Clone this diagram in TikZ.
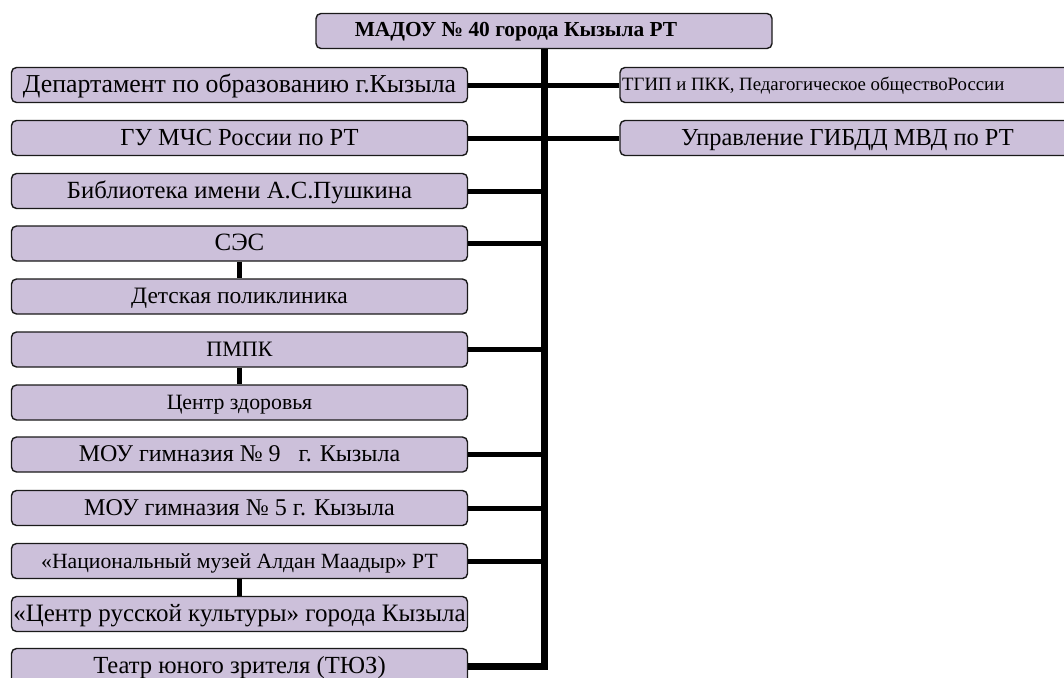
\documentclass[tikz,border=0pt]{standalone}
\usepackage{fontspec}
\setmainfont{Liberation Serif}
\definecolor{boxfill}{HTML}{CCC0DA}
\definecolor{boxline}{HTML}{1A1A1A}
\newcommand{\fs}[1]{\fontsize{#1}{#1}\selectfont}
\tikzset{
  orgbox/.style={draw=boxline, line width=1.4pt, fill=boxfill, rounded corners=5pt,
    minimum width=456pt, minimum height=35pt, inner sep=0pt,
    text height=17pt, text depth=3pt},
  rbox/.style={orgbox, minimum width=455pt},
  trunkline/.style={line width=7pt, line join=miter},
  conn/.style={line width=5pt},
}
\begin{document}
\begin{tikzpicture}[x=1pt,y=-1pt]
\useasboundingbox (0,0) rectangle (1064,677);
\clip (0,0) rectangle (1064,677);
% top
\node[orgbox] (top) at (544,31) {};
\node[font=\bfseries\fs{21.4}, inner sep=0pt, text height=15pt, text depth=3pt] (toptxt) at (516,31) {МАДОУ № 40 города Кызыла РТ};
% left column
\node[orgbox, font=\fs{25.8}] (b1) at (239.5,85) {Департамент по образованию г.Кызыла};
\node[orgbox, font=\fs{24.5}] (b2) at (239.5,138) {ГУ МЧС России по РТ};
\node[orgbox, font=\fs{24.7}] (b3) at (239.5,191) {Библиотека имени А.С.Пушкина};
\node[orgbox, font=\fs{24.9}] (b4) at (239.5,243.5) {СЭС};
\node[orgbox, font=\fs{23.5}] (b5) at (239.5,296.5) {Детская поликлиника};
\node[orgbox, font=\fs{22}] (b6) at (239.5,349.5) {ПМПК};
\node[orgbox, font=\fs{21.8}] (b7) at (239.5,402.5) {Центр здоровья};
\node[orgbox, font=\fs{24}] (b8) at (239.5,454.5) {МОУ гимназия № 9\ \ \ г. Кызыла};
\node[orgbox, font=\fs{24.1}] (b9) at (239.5,508) {МОУ гимназия № 5 г. Кызыла};
\node[orgbox, font=\fs{21.7}] (b10) at (239.5,561) {«Национальный музей Алдан Маадыр» РТ};
\node[orgbox, font=\fs{25}] (b11) at (239.5,614) {«Центр русской культуры» города Кызыла};
\node[orgbox, font=\fs{24.6}] (b12) at (239.5,666) {Театр юного зрителя (ТЮЗ)};
% right column
\node[rbox] (r1) at (847.5,85) {};
\node[anchor=west, font=\fs{18.8}, inner sep=0pt, text height=14pt, text depth=3pt] (r1t) at (622,85) {ТГИП и ПКК, Педагогическое обществоРоссии};
\node[rbox, font=\fs{24.4}] (r2) at (847.5,138) {Управление ГИБДД МВД по РТ};
% trunk
\coordinate (tt) at (544,48);
\coordinate (tb) at (544,666);
\draw[trunkline] (top.south -| tt) -- (tb) -- (b12.east);
\foreach \n in {b1,b2,b3,b4,b6,b8,b9,b10}{
  \draw[conn] (\n.east) -- (\n.east -| tt);
}
\draw[conn] (r1.west) -- (r1.west -| tt);
\draw[conn] (r2.west) -- (r2.west -| tt);
\draw[conn] (b4.south) -- (b5.north);
\draw[conn] (b6.south) -- (b7.north);
\draw[conn] (b10.south) -- (b11.north);
\end{tikzpicture}
\end{document}
